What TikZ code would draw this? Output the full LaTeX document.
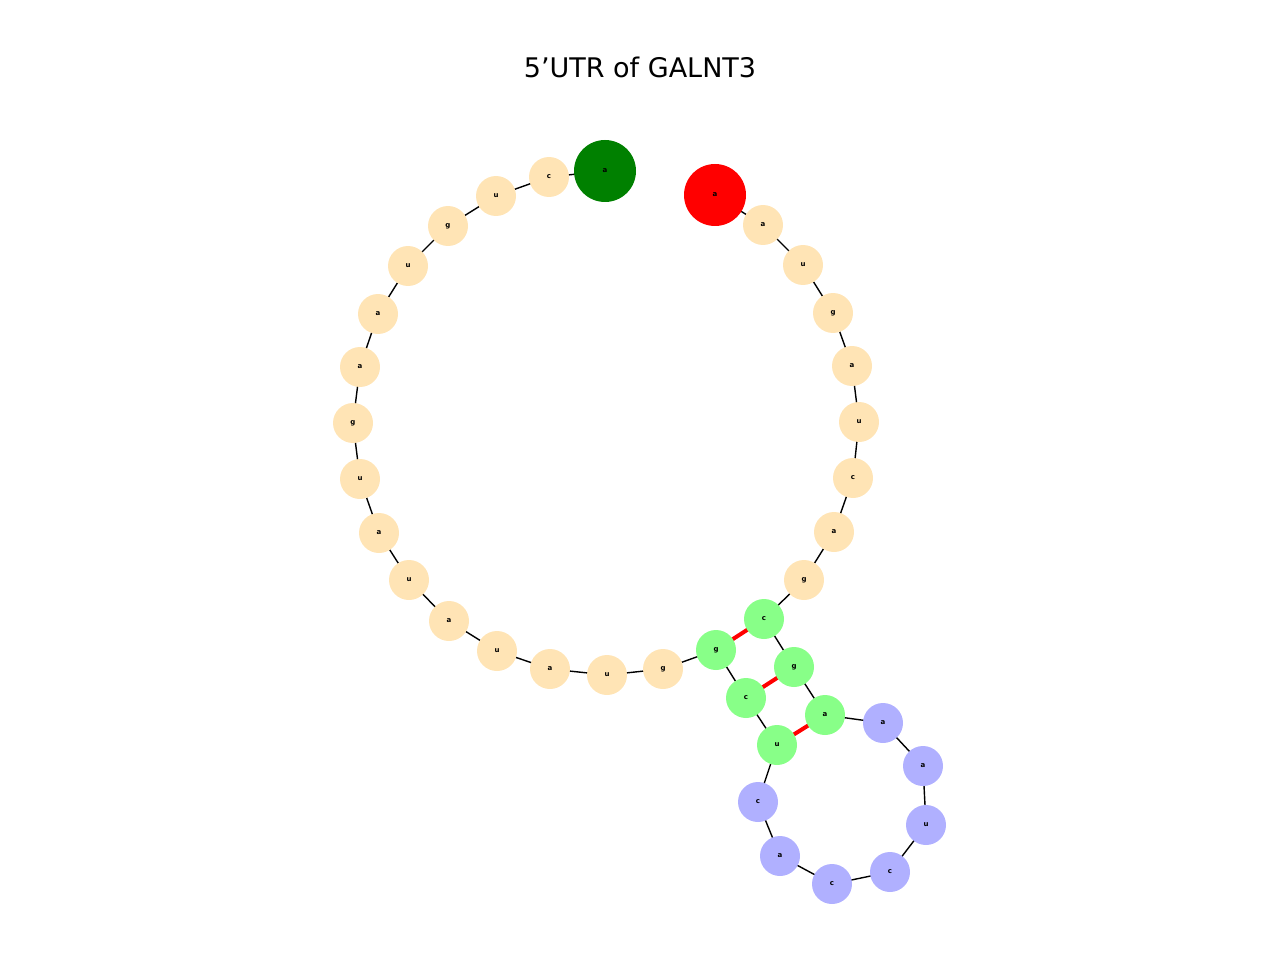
\documentclass[tikz,border=0pt]{standalone}
\usepackage{fontspec}
\setmainfont{DejaVu Sans}
\usetikzlibrary{backgrounds}
\definecolor{wheatc}{HTML}{FFE4B5}
\definecolor{stemc}{HTML}{88FF88}
\definecolor{loopc}{HTML}{B0B0FF}
\definecolor{startc}{HTML}{008000}
\definecolor{endc}{HTML}{FF0000}
\begin{document}
\begin{tikzpicture}[x=1pt,y=-1pt,
  nt/.style={circle,minimum size=40pt,inner sep=0pt,font=\fontsize{7}{7}\selectfont\bfseries},
  big/.style={nt,minimum size=62pt},
  bb/.style={black,line width=1.4pt},
  pr/.style={red,line width=4pt}]
\useasboundingbox (0,0) rectangle (1280,960);
\node[font=\fontsize{27}{27}\selectfont] (title) at (640,67) {5'UTR of GALNT3};
\foreach \i/\x/\y/\c/\l/\s in {
1/605/171/startc/a/big,2/549/177/wheatc/c/nt,3/496/196/wheatc/u/nt,4/448/226/wheatc/g/nt,
5/408/266/wheatc/u/nt,6/378/314/wheatc/a/nt,7/360/367/wheatc/a/nt,8/353/423/wheatc/g/nt,
9/360/479/wheatc/u/nt,10/379/533/wheatc/a/nt,11/409/580/wheatc/u/nt,12/449/621/wheatc/a/nt,
13/497/651/wheatc/u/nt,14/550/669/wheatc/a/nt,15/607/675/wheatc/u/nt,16/663/669/wheatc/g/nt,
17/716/650/stemc/g/nt,18/746/698/stemc/c/nt,19/777/745/stemc/u/nt,20/758/802/loopc/c/nt,
21/780/856/loopc/a/nt,22/832/884/loopc/c/nt,23/890/872/loopc/c/nt,24/926/825/loopc/u/nt,
25/923/766/loopc/a/nt,26/883/723/loopc/a/nt,27/825/715/stemc/a/nt,28/794/667/stemc/g/nt,
29/764/619/stemc/c/nt,30/804/580/wheatc/g/nt,31/834/532/wheatc/a/nt,32/853/478/wheatc/c/nt,
33/859/422/wheatc/u/nt,34/852/366/wheatc/a/nt,35/833/313/wheatc/g/nt,36/803/265/wheatc/u/nt,
37/763/225/wheatc/a/nt,38/715/195/endc/a/big}
  \node[\s,fill=\c] (n\i) at (\x,\y) {\l};
\begin{pgfonlayer}{background}
\foreach \i [evaluate=\i as \j using int(\i+1)] in {1,...,37}
  \draw[bb] (n\i.center) -- (n\j.center);
\draw[pr] (n17.center) -- (n29.center);
\draw[pr] (n18.center) -- (n28.center);
\draw[pr] (n19.center) -- (n27.center);
\end{pgfonlayer}
\end{tikzpicture}
\end{document}
